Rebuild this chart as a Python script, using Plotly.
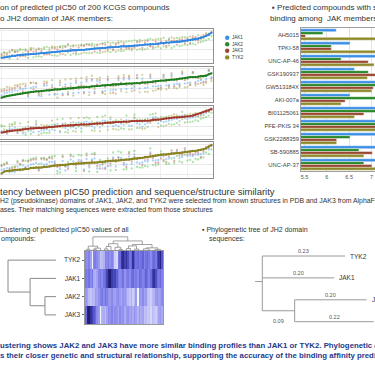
import plotly.graph_objects as go

W, H = 375, 366
FONT = "Liberation Sans, Arial, sans-serif"

# ---------------- data ----------------
members = ["JAK1", "JAK2", "JAK3", "TYK2"]

pic50_jak1 = [6.12, 5.45, 6.80, 5.90, 6.35, 5.20, 6.60, 7.10, 5.75, 6.25, 5.60, 6.95, 6.05, 5.35, 6.45, 6.70,
              5.85, 7.35, 6.15, 5.50, 6.55, 5.95, 6.85, 5.30, 6.40, 7.60, 6.00, 5.70, 6.30, 6.90, 5.55, 6.20,
              6.75, 5.80, 6.50, 5.40, 7.00, 6.10, 5.65, 6.65, 7.25, 5.25, 6.35, 5.85, 6.80, 5.95, 6.45, 5.50,
              7.15, 6.00, 6.60, 5.75, 6.25, 6.95, 5.45, 6.55, 6.15, 5.60, 7.45, 6.30, 5.90, 6.70, 5.35, 6.40,
              6.85, 5.70, 6.20, 7.05, 5.80, 6.50, 6.05, 5.55, 6.75, 6.25, 7.80, 5.15, 6.60, 6.00, 6.35, 5.65]
pic50_jak2 = [6.55, 5.95, 6.20, 6.45, 5.85, 5.75, 7.15, 6.55, 5.40, 6.80, 5.30, 7.30, 5.65, 5.90, 7.00, 6.15,
              6.40, 6.90, 5.70, 6.05, 6.05, 6.50, 7.25, 5.05, 6.90, 7.15, 5.55, 6.30, 5.80, 6.45, 6.10, 6.70,
              6.25, 5.35, 7.05, 5.90, 6.60, 6.65, 5.25, 7.15, 6.80, 5.70, 5.90, 6.40, 6.35, 5.50, 6.95, 5.15,
              7.55, 6.55, 6.10, 6.30, 5.75, 6.50, 6.00, 7.10, 5.65, 6.15, 7.00, 6.85, 5.45, 7.25, 5.80, 5.95,
              6.40, 6.20, 6.75, 6.65, 6.35, 6.00, 6.60, 5.20, 7.20, 6.75, 7.45, 5.60, 6.25, 6.50, 6.85, 6.10]
pic50_jak3 = [5.80, 5.30, 6.95, 6.60, 6.10, 5.65, 6.35, 7.35, 6.20, 6.05, 5.85, 6.70, 6.55, 6.00, 6.30, 6.90,
              5.55, 7.55, 6.50, 5.90, 6.75, 6.35, 6.55, 5.70, 6.20, 7.70, 6.25, 5.60, 6.55, 7.10, 5.95, 6.60,
              6.40, 6.05, 6.85, 5.80, 6.70, 6.45, 5.85, 6.50, 7.40, 5.55, 6.60, 6.30, 6.95, 5.70, 6.80, 5.75,
              7.00, 6.45, 6.30, 6.15, 6.45, 7.15, 5.35, 6.95, 5.90, 6.05, 7.60, 6.70, 6.10, 6.60, 5.75, 6.15,
              7.05, 5.50, 6.55, 7.25, 6.25, 6.20, 6.50, 5.80, 7.05, 5.95, 7.85, 5.45, 6.85, 6.40, 6.20, 5.50]
pic50_tyk2 = [6.30, 6.10, 7.30, 5.70, 6.85, 5.40, 6.40, 7.05, 6.35, 5.85, 6.05, 6.55, 6.60, 5.45, 6.15, 7.15,
              6.20, 7.20, 6.55, 5.25, 7.00, 5.60, 6.95, 5.85, 6.05, 7.55, 6.50, 5.50, 6.70, 7.35, 6.20, 5.75,
              6.95, 6.30, 6.10, 5.05, 7.40, 5.65, 6.10, 6.30, 7.10, 5.35, 6.80, 5.45, 7.20, 6.45, 6.00, 5.90,
              6.75, 5.60, 7.05, 5.40, 6.70, 7.30, 5.65, 6.15, 6.60, 5.30, 7.75, 5.90, 6.40, 6.35, 5.90, 6.90,
              7.25, 5.95, 5.80, 7.45, 5.50, 6.95, 5.65, 6.15, 6.45, 6.00, 7.90, 5.30, 7.10, 5.70, 6.05, 6.25]

bar_compounds = ["AH5015", "TPKI-58", "UNC-AP-46", "GSK190937", "GW513184X", "AKI-007a",
                 "BI01125061", "PFE-PKIS 34", "GSK2288359", "SB-590885", "UNC-AP-37"]
bar_jak1 = [6.21, 6.52, 7.40, 6.62, 7.45, 6.52, 7.35, 7.50, 7.30, 7.30, 7.40]
bar_jak2 = [5.91, 6.10, 6.32, 6.93, 7.30, 7.20, 7.25, 7.40, 6.52, 6.72, 6.83]
bar_jak3 = [5.52, 6.10, 6.93, 7.30, 7.04, 6.41, 6.83, 7.30, 6.22, 7.02, 7.01]
bar_tyk2 = [7.60, 7.50, 7.06, 6.91, 7.01, 6.32, 6.62, 7.30, 6.22, 6.83, 7.15]
bar_ticks = [5.5, 6, 6.5, 7]

heat_rows = ["TYK2", "JAK1", "JAK2", "JAK3"]
heat_tyk2 = [6.2, 6.1, 6.3, 5.9, 5.0, 6.3, 6.4, 6.2, 6.0, 5.5, 5.6, 5.7, 6.3, 6.2, 6.4, 6.1,
             6.3, 6.0, 5.4, 5.3, 6.4, 6.6, 7.1, 7.3, 7.0, 7.2, 6.9, 6.5, 6.6, 7.2, 6.8, 6.5,
             6.6, 6.4, 6.5, 6.7, 6.3, 6.5, 6.6, 6.4, 6.2, 6.5, 6.6, 6.4, 6.9, 7.1, 7.4, 6.8]
heat_jak1 = [6.4, 6.3, 6.5, 6.2, 6.4, 5.8, 5.7, 5.9, 6.3, 6.4, 6.2, 6.5, 6.6, 7.0, 7.4, 7.5,
             7.1, 6.9, 7.0, 6.7, 6.4, 6.2, 6.3, 6.5, 6.1, 6.3, 6.4, 6.2, 6.5, 6.6, 6.3, 6.4,
             6.2, 6.6, 6.5, 6.3, 6.4, 6.7, 6.5, 6.3, 6.6, 7.0, 7.2, 6.9, 6.5, 6.4, 6.6, 6.3]
heat_jak2 = [6.0, 5.9, 5.6, 5.5, 5.7, 5.6, 6.0, 5.9, 6.1, 6.3, 6.4, 6.2, 6.5, 6.3, 6.1, 6.0,
             6.2, 6.0, 5.9, 6.1, 6.2, 6.0, 5.8, 6.1, 6.0, 5.9, 5.6, 5.5, 5.7, 5.4, 5.6, 6.0,
             5.0, 6.1, 6.0, 6.2, 5.9, 6.0, 5.6, 5.5, 5.4, 5.6, 5.7, 6.0, 6.1, 5.9, 6.0, 6.2]
heat_jak3 = [6.6, 7.4, 7.5, 7.2, 7.0, 6.8, 6.6, 6.2, 6.0, 5.0, 5.7, 5.8, 5.6, 5.9, 6.2, 6.1,
             6.3, 6.0, 6.2, 6.1, 5.9, 6.2, 6.0, 6.1, 5.8, 6.0, 6.1, 5.9, 6.0, 5.8, 6.1, 5.9,
             5.7, 6.0, 5.8, 5.9, 5.5, 5.6, 5.4, 5.5, 5.3, 5.6, 5.5, 5.4, 5.6, 5.9, 6.0, 5.8]

# row dendrogram: [height, left, right]; leaf = [row, row]
row_tree = [1.0, [0, 0], [0.54, [1, 1], [0.23, [2, 2], [3, 3]]]]
# column dendrogram: [height, left, right]; leaf group = [first_col, last_col]
col_tree = [10,
            [3.2, [1.0, [0, 1], [2, 3]], [1.8, [0.9, [4, 5], [6, 7]], [8, 10]]],
            [7.0,
             [5.0, [3.0, [1.2, [11, 12], [13, 14]], [15, 16]], [2.4, [17, 19], [0.8, [20, 21], [22, 23]]]],
             [4.4, [3.4, [1.5, [24, 26], [27, 28]], [1.1, [29, 31], [32, 33]]],
              [2.0, [1.3, [34, 37], [38, 40]], [0.9, [41, 44], [45, 47]]]]]]

# phylogenetic tree: (name, branch length, children)
phylo_tree = ("", 0.02, [("TYK2", 0.23, None), ("JAK1", 0.20, None),
                         ("", 0.09, [("JAK2", 0.20, None), ("JAK3", 0.22, None)])])
phylo_order = ["TYK2", "JAK1", "JAK2", "JAK3"]

# ---------------- helpers ----------------
def X(p):
    return p / W

def Y(p):
    return 1 - p / H

line_colors = {"JAK1": "#2f86e0", "JAK2": "#1f7d1f", "JAK3": "#a3392c", "TYK2": "#8a8424"}
dot_colors = {"JAK1": "#4aa0ef", "JAK2": "#47c047", "JAK3": "#b5574b", "TYK2": "#a39c36"}
bar_colors = {"JAK1": "#3b8fe6", "JAK2": "#2b8a2b", "JAK3": "#9b4832", "TYK2": "#8e8a2c"}

values = {"JAK1": pic50_jak1, "JAK2": pic50_jak2, "JAK3": pic50_jak3, "TYK2": pic50_tyk2}
bars = {"JAK1": bar_jak1, "JAK2": bar_jak2, "JAK3": bar_jak3, "TYK2": bar_tyk2}

fig = go.Figure()
layout = {}
N = len(pic50_jak1)
idx = list(range(N))

# ---------------- sorted scatter panels ----------------
boxes = [(29, 63), (67, 102), (106, 139), (142, 178)]
for k, m in enumerate(members):
    sfx = "" if k == 0 else str(k + 1)
    order = sorted(range(N), key=lambda i: values[m][i])
    for o in members:
        if o == m:
            continue
        fig.add_trace(go.Scatter(x=idx, y=[values[o][i] for i in order], mode="markers",
                                 marker=dict(size=2.3, color=dot_colors[o], opacity=0.45),
                                 xaxis="x" + sfx, yaxis="y" + sfx, showlegend=False, hoverinfo="skip"))
    fig.add_trace(go.Scatter(x=idx, y=[values[m][i] for i in order], mode="lines+markers",
                             line=dict(color=line_colors[m], width=1.8),
                             marker=dict(size=2.3, color=line_colors[m]),
                             xaxis="x" + sfx, yaxis="y" + sfx, showlegend=False, hoverinfo="skip"))
    top, bot = boxes[k]
    layout["xaxis" + sfx] = dict(domain=[0, X(213)], range=[-0.6, N - 0.4], anchor="y" + sfx,
                                 showticklabels=False, ticks="", showgrid=True, gridcolor="#efefef",
                                 dtick=10, zeroline=False, showline=True, mirror=True,
                                 linecolor="#8f8f8f", linewidth=1.2)
    layout["yaxis" + sfx] = dict(domain=[Y(bot), Y(top)], range=[4.6, 8.2], anchor="x" + sfx,
                                 side="right", showticklabels=False, ticks="", showgrid=True,
                                 gridcolor="#e9e9e9", dtick=1, zeroline=False, showline=True,
                                 mirror=False, linecolor="#8f8f8f", linewidth=1.2)

# ---------------- bar chart ----------------
for m in members:
    fig.add_trace(go.Bar(y=bar_compounds, x=bars[m], orientation="h", name=m,
                         marker=dict(color=bar_colors[m], line=dict(color="white", width=0.4)),
                         xaxis="x5", yaxis="y5", showlegend=False, hoverinfo="skip"))
layout["xaxis5"] = dict(domain=[X(301), 1], range=[5.42, 7.08], anchor="y5",
                        tickvals=bar_ticks, ticktext=[f"{t:g}" for t in bar_ticks],
                        tickfont=dict(size=5.5, color="#555", family=FONT), ticks="",
                        showgrid=True, gridcolor="#e2e2e2", zeroline=False,
                        showline=True, mirror=True, linecolor="#a0a0a0", linewidth=0.8)
layout["yaxis5"] = dict(domain=[Y(171), Y(28)], anchor="x5", autorange="reversed",
                        tickfont=dict(size=5.8, color="#444", family=FONT), ticks="",
                        showline=True, linecolor="#a0a0a0", linewidth=0.8, showgrid=False)

# ---------------- dendrogram helpers ----------------
def walk(node, segs):
    if len(node) == 2:
        return (node[0] + node[1]) / 2.0, 0.0
    h, left, right = node
    xl, hl = walk(left, segs)
    xr, hr = walk(right, segs)
    segs.append([(xl, hl), (xl, h), (xr, h), (xr, hr)])
    return (xl + xr) / 2.0, h

# row dendrogram (left of heatmap)
rsegs = []
walk(row_tree, rsegs)
rx, ry = [], []
for seg in rsegs:
    for pos, hgt in seg:
        rx.append(hgt)
        ry.append(pos)
    rx.append(None)
    ry.append(None)
fig.add_trace(go.Scatter(x=rx, y=ry, mode="lines", line=dict(color="#8a8a8a", width=1),
                         xaxis="x6", yaxis="y6", showlegend=False, hoverinfo="skip"))
layout["xaxis6"] = dict(domain=[0, X(60)], range=[(56 - 0) / 48.0, (56 - 60) / 48.0], anchor="y6",
                        visible=False)
layout["yaxis6"] = dict(domain=[Y(324), Y(251)], range=[3.5, -0.5], anchor="x6", visible=False)

# heatmap
fig.add_trace(go.Heatmap(z=[heat_tyk2, heat_jak1, heat_jak2, heat_jak3],
                         x=list(range(len(heat_tyk2))), y=list(range(len(heat_rows))),
                         zmin=5.0, zmax=7.6, showscale=False, hoverinfo="skip",
                         colorscale=[[0, "#f4f4ff"], [0.19, "#c4c4f7"], [0.385, "#9a9af0"],
                                     [0.5, "#8282ea"], [0.654, "#6262d8"], [0.808, "#3a3aa8"],
                                     [1, "#181868"]],
                         xaxis="x7", yaxis="y7"))
layout["xaxis7"] = dict(domain=[X(85), X(163)], range=[-0.5, len(heat_tyk2) - 0.5], anchor="y7",
                        showticklabels=False, ticks="", showgrid=False, zeroline=False,
                        showline=True, mirror=True, linecolor="#999", linewidth=1)
layout["yaxis7"] = dict(domain=[Y(324), Y(251)], range=[3.5, -0.5], anchor="x7",
                        tickvals=list(range(len(heat_rows))), ticktext=heat_rows,
                        tickfont=dict(size=6.5, color="#333", family=FONT), ticks="outside",
                        ticklen=2.5, tickcolor="#666", showgrid=False, zeroline=False,
                        showline=True, mirror=True, linecolor="#999", linewidth=1)

# column dendrogram (above heatmap)
csegs = []
walk(col_tree, csegs)
cx, cy = [], []
for seg in csegs:
    for pos, hgt in seg:
        cx.append(pos)
        cy.append(hgt)
    cx.append(None)
    cy.append(None)
fig.add_trace(go.Scatter(x=cx, y=cy, mode="lines", line=dict(color="#8a8a8a", width=0.8),
                         xaxis="x8", yaxis="y8", showlegend=False, hoverinfo="skip"))
layout["xaxis8"] = dict(domain=[X(85), X(163)], range=[-0.5, len(heat_tyk2) - 0.5], anchor="y8",
                        visible=False)
layout["yaxis8"] = dict(domain=[Y(251), Y(236)], range=[-0.3, 10.6], anchor="x8", visible=False)

# ---------------- phylogenetic tree ----------------
px_, py_ = [], []
phylo_ann = []

def place(node, x0, internal=False):
    name, bl, children = node
    x1 = x0 + bl
    if children is None:
        y = float(phylo_order.index(name))
    else:
        ys = [place(c, x1, internal=(c[2] is not None)) for c in children]
        px_.extend([x1, x1, None])
        py_.extend([min(ys), max(ys), None])
        y = sum(ys) / len(ys)
    px_.extend([x0, x1, None])
    py_.extend([y, y, None])
    if name:
        phylo_ann.append(dict(x=x1, y=y, text=name, xanchor="left", xshift=4, size=6.5, color="#333"))
    if x0 >= 0:
        phylo_ann.append(dict(x=(x0 + x1) / 2, y=y, text=f"{bl:.2f}", xanchor="center",
                              yshift=(-10 if internal else 5), size=5.5, color="#555"))
    return y

place(phylo_tree, -phylo_tree[1])
fig.add_trace(go.Scatter(x=px_, y=py_, mode="lines", line=dict(color="#9a9a9a", width=1),
                         xaxis="x9", yaxis="y9", showlegend=False, hoverinfo="skip"))
layout["xaxis9"] = dict(domain=[0, 1], range=[-262.3 / 359.6, (375 - 262.3) / 359.6], anchor="y9",
                        visible=False)
layout["yaxis9"] = dict(domain=[0, 1], range=[(366 - 256) / 21.9, -256 / 21.9], anchor="x9",
                        visible=False)

# ---------------- annotations ----------------
anns = []

def txt(x, y, s, size, color="#333", anchor="left"):
    anns.append(dict(x=X(x), y=Y(y), xref="paper", yref="paper", text=s, showarrow=False,
                     xanchor=anchor, yanchor="middle", borderpad=0, borderwidth=0,
                     font=dict(size=size, color=color, family=FONT)))

for a in phylo_ann:
    anns.append(dict(x=a["x"], y=a["y"], xref="x9", yref="y9", text=a["text"], showarrow=False,
                     xanchor=a["xanchor"], yanchor="middle", xshift=a.get("xshift", 0),
                     yshift=a.get("yshift", 0), borderpad=0,
                     font=dict(size=a["size"], color=a["color"], family=FONT)))

txt(0, 7.5, "on of predicted pIC50 of 200 KCGS compounds", 8)
txt(0, 18, "o JH2 domain of JAK members:", 8)
txt(272, 7.5, "▪ Predicted compounds with similar", 8)
txt(270, 19, "binding among  JAK members", 8)
txt(0, 191, "tency between pIC50 prediction and sequence/structure similarity", 9.5)
txt(0, 201, "H2 (pseudokinase) domains of JAK1, JAK2, and TYK2 were selected from known structures in PDB and JAK3 from AlphaFold", 6.9)
txt(0, 210, "ases. Their matching sequences were extracted from those structures", 6.9)
txt(-1, 230, "Clustering of predicted pIC50 values of all", 7)
txt(1, 239, "ompounds:", 7)
txt(202, 230, "▪ Phylogenetic tree of JH2 domain", 7)
txt(209, 239, "sequences:", 7)
txt(0, 345, "<b>ustering shows JAK2 and JAK3 have more similar binding profiles than JAK1 or TYK2. Phylogenetic analysis</b>", 7.8, "#1e3a8a")
txt(0, 355, "<b>s their closer genetic and structural relationship, supporting the accuracy of the binding affinity predictions.</b>", 7.8, "#1e3a8a")

# manual legend
shapes = []
leg_y = [37.7, 44.2, 50.8, 57.4]
for m, yy in zip(members, leg_y):
    shapes.append(dict(type="circle", xref="paper", yref="paper",
                       x0=X(225), x1=X(229.4), y0=Y(yy + 2.2), y1=Y(yy - 2.2),
                       fillcolor=bar_colors[m], line=dict(width=0)))
    txt(232, yy, m, 4.5, "#333")

fig.update_layout(width=W, height=H, margin=dict(l=0, r=0, t=0, b=0),
                  paper_bgcolor="white", plot_bgcolor="rgba(0,0,0,0)",
                  barmode="group", bargap=0.12, bargroupgap=0.0,
                  hovermode=False, annotations=anns, shapes=shapes,
                  font=dict(family=FONT), **layout)

fig.write_html("out.html", config={"displayModeBar": False},
               post_script="document.body.style.margin='0px';document.body.style.padding='0px';")
